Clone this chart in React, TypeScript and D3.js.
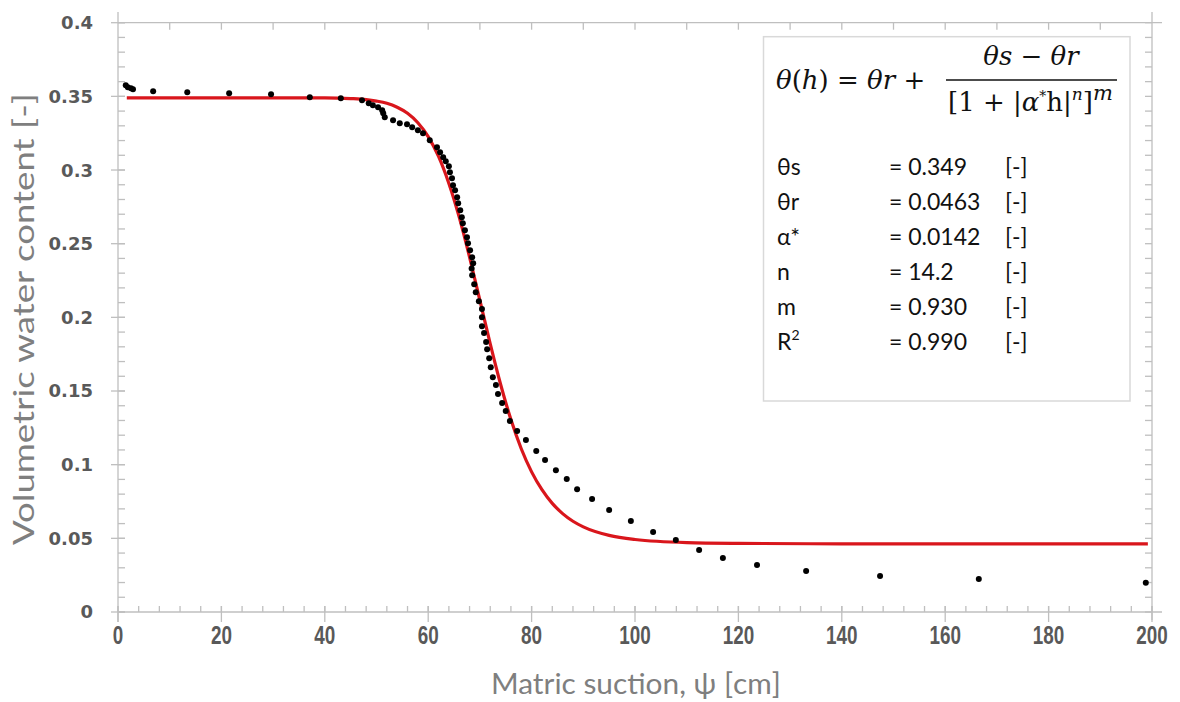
import React from "react";
import * as d3 from "d3";

// Observed data: matric suction h [cm] and volumetric water content θ [-]
const obsH = [1.5, 1.9, 2.5, 2.9, 6.8, 13.4, 21.5, 29.6, 37.1, 43.1, 47.2, 48.5, 49.3, 50.3, 51.1, 51.3, 51.6, 53.2, 54.5, 55.9, 56.9, 58.0, 59.0, 60.3, 61.7, 62.3, 62.9, 63.4, 64.0, 64.2, 64.6, 64.8, 65.2, 65.6, 65.8, 66.2, 66.5, 66.7, 67.1, 67.5, 67.7, 68.1, 68.5, 68.7, 68.4, 68.5, 68.9, 69.2, 69.8, 70.4, 70.4, 70.4, 70.8, 71.2, 71.4, 71.8, 72.1, 72.5, 73.1, 73.5, 74.3, 75.0, 75.8, 77.2, 78.9, 80.9, 82.6, 84.7, 86.8, 88.8, 91.7, 95.0, 99.2, 103.5, 107.9, 112.4, 117.0, 123.6, 133.1, 147.4, 166.5, 198.8];
const obsTheta = [0.3575, 0.3562, 0.3555, 0.3548, 0.3535, 0.3528, 0.3521, 0.3514, 0.3494, 0.3487, 0.3474, 0.3453, 0.344, 0.3426, 0.3406, 0.3385, 0.3358, 0.3338, 0.3318, 0.3311, 0.329, 0.327, 0.325, 0.3202, 0.3155, 0.312, 0.3087, 0.306, 0.3026, 0.2985, 0.2944, 0.2897, 0.2863, 0.2816, 0.2775, 0.2727, 0.268, 0.2639, 0.2592, 0.2544, 0.2503, 0.2456, 0.2408, 0.2368, 0.2332, 0.2286, 0.2225, 0.2171, 0.211, 0.2056, 0.2001, 0.194, 0.1893, 0.1832, 0.1784, 0.1723, 0.1662, 0.1594, 0.154, 0.1479, 0.1418, 0.1364, 0.1296, 0.1228, 0.1167, 0.1092, 0.1031, 0.0963, 0.0902, 0.0834, 0.0767, 0.0692, 0.0617, 0.0543, 0.0488, 0.0421, 0.0366, 0.0319, 0.0278, 0.0244, 0.0224, 0.0199];

// Fitted curve
const fitH = [1.7, 10, 20, 30, 40, 45, 48, 50, 52, 54, 56, 58, 60, 62, 64, 66, 68, 70, 72, 74, 76, 78, 80, 82, 84, 86, 88, 90, 95, 100, 110, 120, 140, 160, 180, 199.2];
const fitTheta = [0.349, 0.349, 0.349, 0.349, 0.349, 0.3485, 0.3478, 0.3468, 0.3453, 0.3426, 0.3385, 0.3321, 0.3227, 0.3092, 0.2909, 0.268, 0.2409, 0.2115, 0.182, 0.1546, 0.1306, 0.1108, 0.0951, 0.083, 0.0737, 0.0668, 0.0616, 0.0578, 0.052, 0.0492, 0.0471, 0.0466, 0.0463, 0.0463, 0.0463, 0.0463];

const xTickLabels = ["0", "20", "40", "60", "80", "100", "120", "140", "160", "180", "200"];
const yTickLabels = ["0", "0.05", "0.1", "0.15", "0.2", "0.25", "0.3", "0.35", "0.4"];

const paramNames = ["θs", "θr", "α*", "n", "m", "R"];
const paramValues = ["= 0.349", "= 0.0463", "= 0.0142", "= 14.2", "= 0.930", "= 0.990"];
const paramUnits = ["[-]", "[-]", "[-]", "[-]", "[-]", "[-]"];

const W = 1180;
const H = 702;
const X0 = 118, X1 = 1152, Y0 = 612, Y1 = 22.7;
const AX = "#bfbfbf";

export default function App() {
  const x = d3.scaleLinear().domain([0, 200]).range([X0, X1]);
  const y = d3.scaleLinear().domain([0, 0.4]).range([Y0, Y1]);

  const line = d3
    .line<number>()
    .x((_, i) => x(fitH[i]))
    .y((d) => y(d))
    .curve(d3.curveMonotoneX);

  const bottomMinor = d3.range(0, 201, 4);
  const bottomMajor = d3.range(0, 201, 20);
  const topTicks = d3.range(10, 200, 10);
  const leftMinor = d3.range(0, 41, 1).map((v) => v / 100);
  const leftMajor = d3.range(0, 9, 1).map((v) => v * 0.05);

  const serif = "'DejaVu Serif', 'Liberation Serif', serif";
  const sans = "Lato, 'Open Sans', sans-serif";

  return (
    <svg
      width={W}
      height={H}
      style={{ position: "absolute", left: 0, top: 0, background: "#fff" }}
      xmlns="http://www.w3.org/2000/svg"
    >
      <rect x={0} y={0} width={W} height={H} fill="#fff" />
      {/* axes frame */}
      <g stroke={AX} strokeWidth={1.3} fill="none">
        <line x1={X0} x2={X0} y1={12} y2={622} />
        <line x1={X1} x2={X1} y1={12} y2={620} />
        <line x1={X0} x2={1162} y1={Y1} y2={Y1} />
        <line x1={X0} x2={1162} y1={Y0} y2={Y0} />
        {bottomMinor.map((v) => (
          <line key={"bm" + v} x1={x(v)} x2={x(v)} y1={Y0} y2={Y0 - 6} />
        ))}
        {bottomMajor.map((v) => (
          <line key={"bM" + v} x1={x(v)} x2={x(v)} y1={Y0 - 6} y2={Y0 + 10} />
        ))}
        {topTicks.map((v) => (
          <line key={"t" + v} x1={x(v)} x2={x(v)} y1={Y1} y2={Y1 + 7} />
        ))}
        {leftMinor.map((v) => (
          <line key={"lm" + v} x1={X0} x2={X0 + 7} y1={y(v)} y2={y(v)} />
        ))}
        {leftMajor.map((v) => (
          <line key={"lM" + v} x1={X0 - 7} x2={X0 + 7} y1={y(v)} y2={y(v)} />
        ))}
        {leftMinor.map((v) => (
          <line key={"r" + v} x1={X1} x2={X1 - 7} y1={y(v)} y2={y(v)} />
        ))}
      </g>

      {/* tick labels */}
      <g fill="#595959" fontFamily="'Liberation Sans', Arial, sans-serif" fontSize={26} fontWeight="bold" textAnchor="middle">
        {xTickLabels.map((t, i) => (
          <text
            key={"xl" + i}
            x={x(bottomMajor[i])}
            y={644}
            textLength={t.length * 10.5}
            lengthAdjust="spacingAndGlyphs"
          >
            {t}
          </text>
        ))}
      </g>
      <g fill="#595959" fontFamily="'DejaVu Sans', Verdana, sans-serif" fontSize={18} fontWeight="bold" textAnchor="end">
        {yTickLabels.map((t, i) => (
          <text key={"yl" + i} x={93} y={y(leftMajor[i])} dy="0.36em">
            {t}
          </text>
        ))}
      </g>

      {/* axis titles */}
      <text
        x={636}
        y={694}
        textAnchor="middle"
        fontFamily={sans}
        fontSize={28}
        fill="#7f7f7f"
        textLength={290}
        lengthAdjust="spacingAndGlyphs"
      >
        Matric suction, ψ [cm]
      </text>
      <text
        transform={`translate(34, ${319}) rotate(-90)`}
        textAnchor="middle"
        fontFamily={sans}
        fontSize={28}
        fill="#7f7f7f"
        textLength={452}
        lengthAdjust="spacingAndGlyphs"
      >
        Volumetric water content [-]
      </text>

      {/* legend / parameter box */}
      <rect x={763.5} y={36.7} width={366.5} height={364.3} fill="#fff" stroke="#d9d9d9" strokeWidth={1.5} />
      <g fontFamily={serif} fill="#111" fontSize={26}>
        <text x={776} y={89}>
          <tspan fontStyle="italic">θ</tspan>
          <tspan>(</tspan>
          <tspan fontStyle="italic">h</tspan>
          <tspan>) =  </tspan>
          <tspan fontStyle="italic">θr</tspan>
          <tspan> +</tspan>
        </text>
        <text x={1031} y={65} textAnchor="middle">
          <tspan fontStyle="italic">θs</tspan>
          <tspan> − </tspan>
          <tspan fontStyle="italic">θr</tspan>
        </text>
        <line x1={946} x2={1117} y1={80} y2={80} stroke="#111" strokeWidth={1.3} />
        <text x={948} y={111}>
          <tspan>[1 + |</tspan>
          <tspan fontStyle="italic">α</tspan>
          <tspan fontSize={14} dy={-10}>*</tspan>
          <tspan dy={10}>h|</tspan>
          <tspan fontStyle="italic" fontSize={17} dy={-11}>n</tspan>
          <tspan dy={11}>]</tspan>
          <tspan fontStyle="italic" fontSize={21} dy={-11}>m</tspan>
        </text>
      </g>
      <g fontFamily={sans} fontSize={23} fill="#111">
        {paramNames.map((p, i) => (
          <g key={"p" + i}>
            <text x={777} y={175 + i * 35}>
              {p}
              {p === "R" ? (
                <tspan fontSize={14} dy={-10}>
                  2
                </tspan>
              ) : null}
            </text>
            <text x={889} y={175 + i * 35}>
              {paramValues[i]}
            </text>
            <text x={1005} y={175 + i * 35}>
              {paramUnits[i]}
            </text>
          </g>
        ))}
      </g>

      {/* fitted curve */}
      <path d={line(fitTheta) || ""} fill="none" stroke="#d9161c" strokeWidth={3.2} strokeLinejoin="round" />

      {/* observed points */}
      <g fill="#000">
        {obsH.map((h, i) => (
          <circle key={"o" + i} cx={x(h)} cy={y(obsTheta[i])} r={3} />
        ))}
      </g>
    </svg>
  );
}
